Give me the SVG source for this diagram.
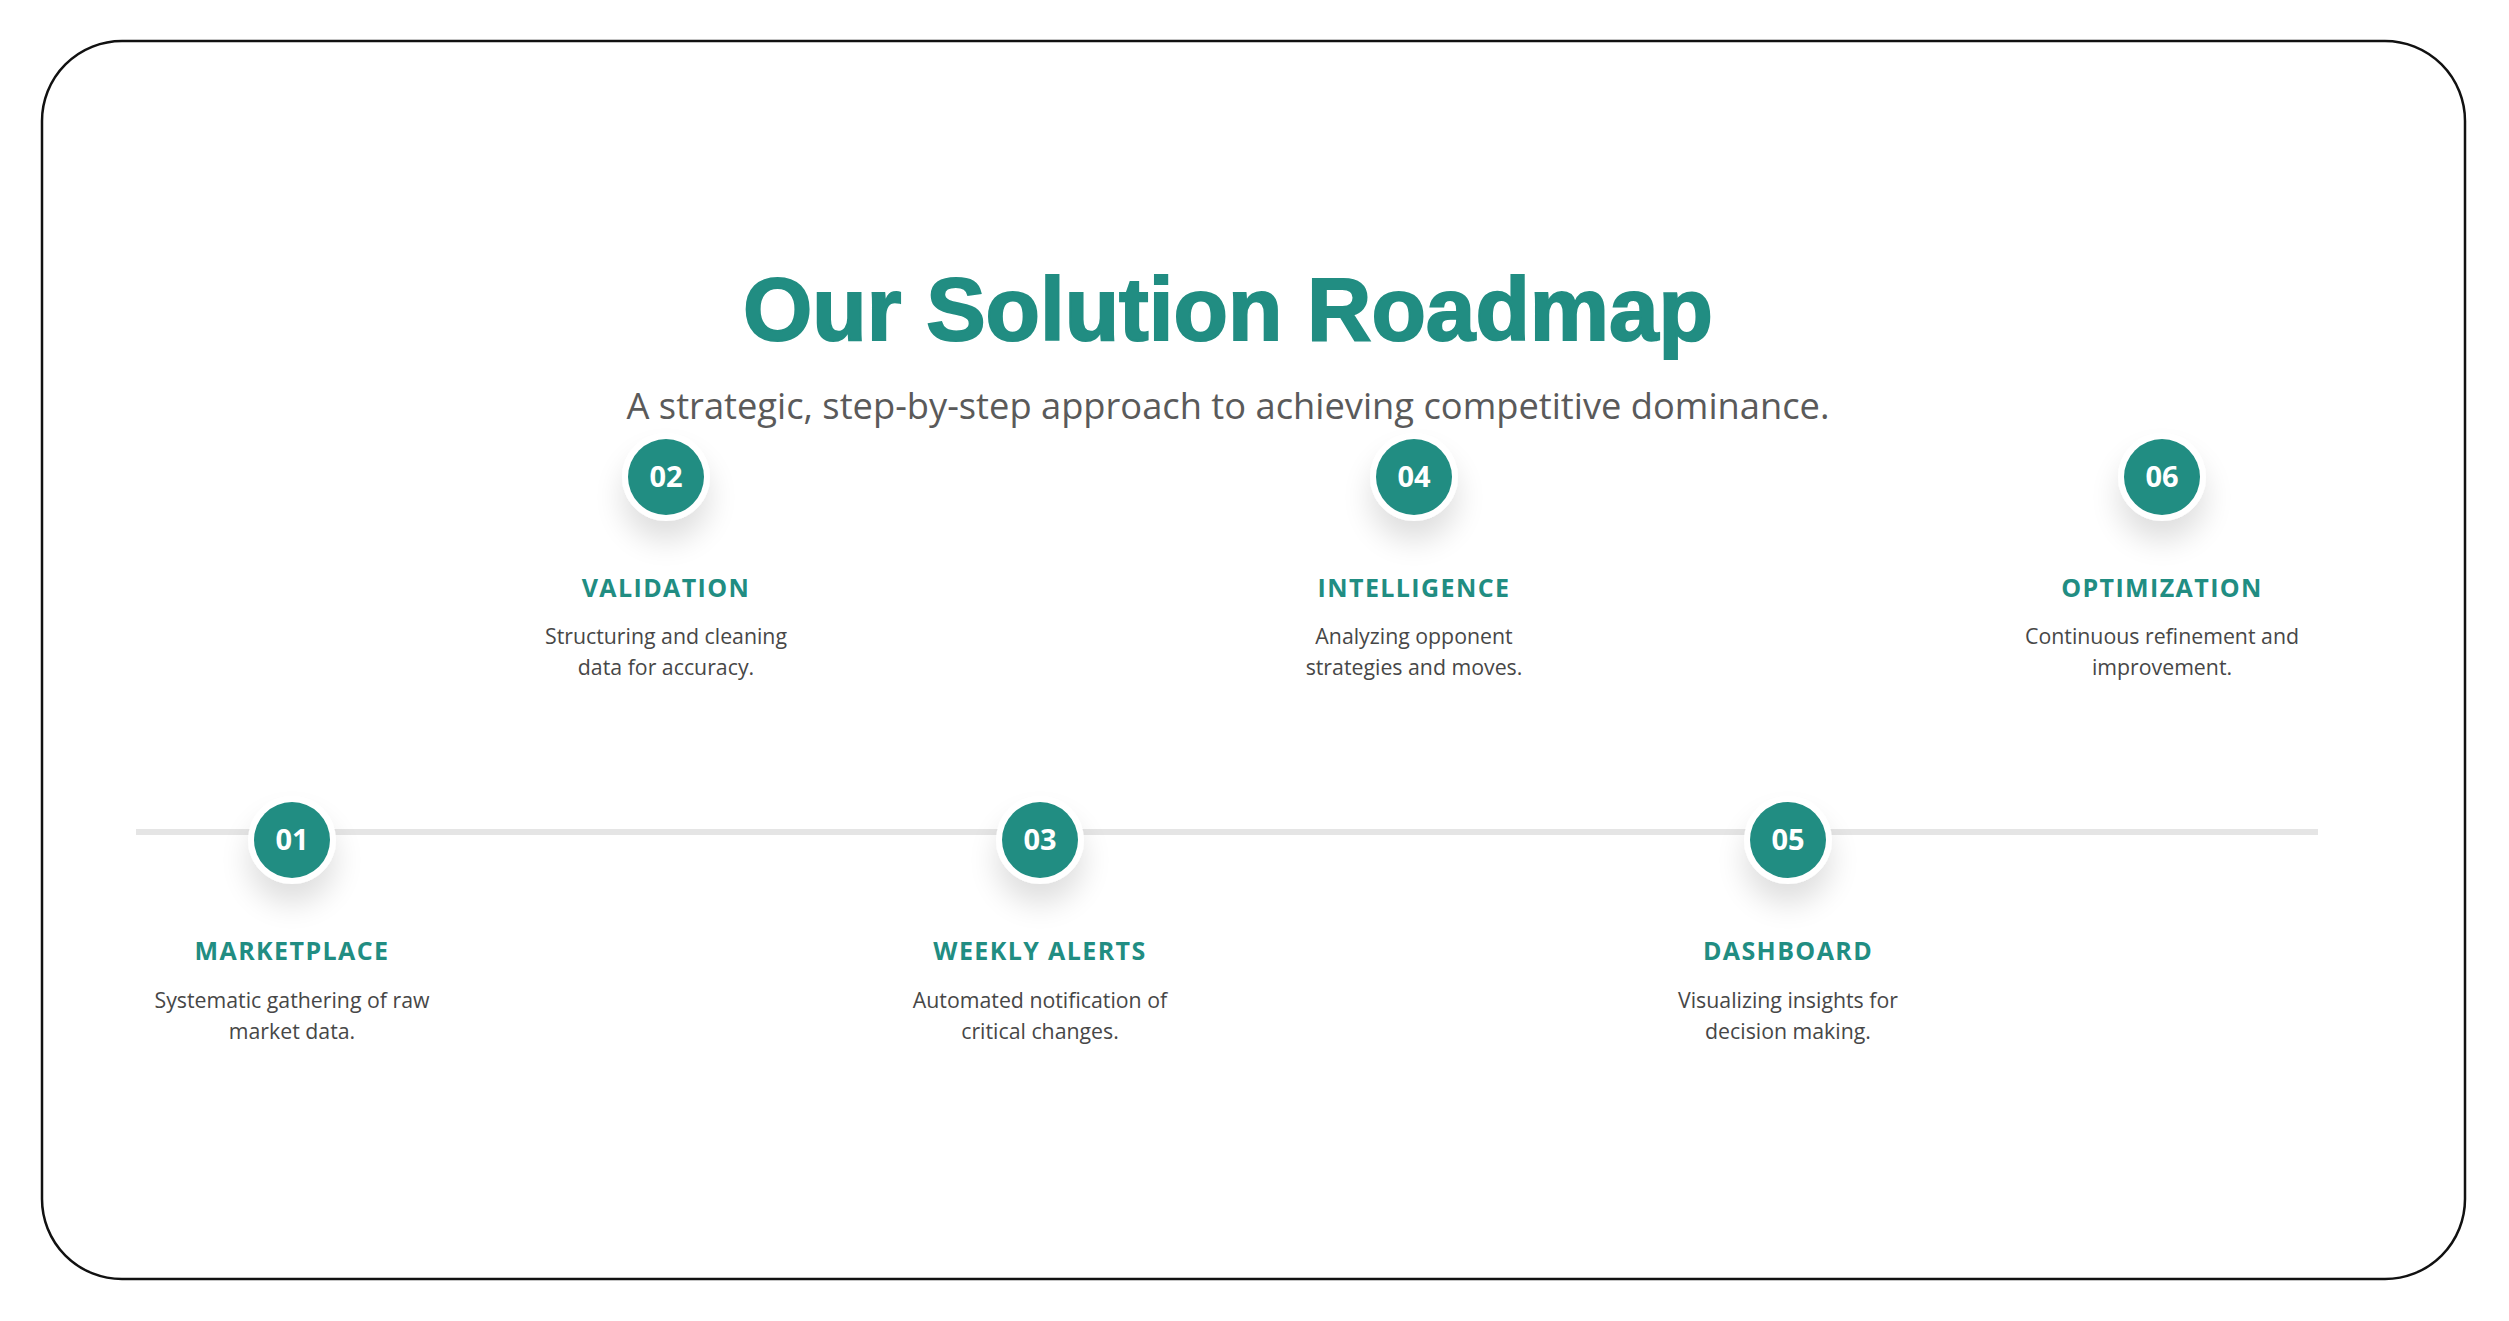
<svg xmlns="http://www.w3.org/2000/svg" width="2509" height="1321" viewBox="0 0 2509 1321">
<defs>
<filter id="sh" x="-150%" y="-150%" width="400%" height="400%">
<feGaussianBlur in="SourceAlpha" stdDeviation="15"/>
<feOffset dx="0" dy="20" result="b"/>
<feComponentTransfer><feFuncA type="linear" slope="0.13"/></feComponentTransfer>
<feMerge><feMergeNode/><feMergeNode in="SourceGraphic"/></feMerge>
</filter>
</defs>
<style>
.ring{fill:#ffffff;filter:url(#sh)}
.dot{fill:#218d82}
.num{font-family:"Open Sans","Liberation Sans",sans-serif;font-weight:700;font-size:29px;fill:#ffffff;text-anchor:middle}
.lab{font-family:"Open Sans","Liberation Sans",sans-serif;font-weight:700;font-size:25px;letter-spacing:1.4px;fill:#218d82;text-anchor:middle}
.desc{font-family:"Open Sans","Liberation Sans",sans-serif;font-size:21.3px;fill:#474747;text-anchor:middle}
</style>
<rect x="0" y="0" width="2509" height="1321" fill="#ffffff"/>
<rect x="42" y="41" width="2423" height="1238" rx="80" ry="80" fill="#ffffff" stroke="#111111" stroke-width="2.5"/>
<g id="title">
<text x="1228" y="340" text-anchor="middle" font-family="'Liberation Sans',Arial,sans-serif" font-weight="700" font-size="89" fill="#218d82" stroke="#218d82" stroke-width="2" textLength="970" lengthAdjust="spacingAndGlyphs">Our Solution Roadmap</text>
<text x="1228" y="419" text-anchor="middle" font-family="'Open Sans','Liberation Sans',sans-serif" font-size="37" fill="#5a5a5a" textLength="1203" lengthAdjust="spacingAndGlyphs">A strategic, step-by-step approach to achieving competitive dominance.</text>
</g>
<g id="connectors">
<line x1="136" y1="832" x2="2318" y2="832" stroke="#e5e5e5" stroke-width="6"/>
</g>
<g id="step01">
<circle class="ring" cx="292" cy="840" r="44"/>
<circle class="dot" cx="292" cy="840" r="38"/>
<text class="num" x="292" y="850">01</text>
<text class="lab" x="292" y="960">MARKETPLACE</text>
<text class="desc" x="292" y="1008">Systematic gathering of raw</text>
<text class="desc" x="292" y="1039">market data.</text>
</g>
<g id="step02">
<circle class="ring" cx="666" cy="477" r="44"/>
<circle class="dot" cx="666" cy="477" r="38"/>
<text class="num" x="666" y="487">02</text>
<text class="lab" x="666" y="597">VALIDATION</text>
<text class="desc" x="666" y="644">Structuring and cleaning</text>
<text class="desc" x="666" y="675">data for accuracy.</text>
</g>
<g id="step03">
<circle class="ring" cx="1040" cy="840" r="44"/>
<circle class="dot" cx="1040" cy="840" r="38"/>
<text class="num" x="1040" y="850">03</text>
<text class="lab" x="1040" y="960">WEEKLY ALERTS</text>
<text class="desc" x="1040" y="1008">Automated notification of</text>
<text class="desc" x="1040" y="1039">critical changes.</text>
</g>
<g id="step04">
<circle class="ring" cx="1414" cy="477" r="44"/>
<circle class="dot" cx="1414" cy="477" r="38"/>
<text class="num" x="1414" y="487">04</text>
<text class="lab" x="1414" y="597">INTELLIGENCE</text>
<text class="desc" x="1414" y="644">Analyzing opponent</text>
<text class="desc" x="1414" y="675">strategies and moves.</text>
</g>
<g id="step05">
<circle class="ring" cx="1788" cy="840" r="44"/>
<circle class="dot" cx="1788" cy="840" r="38"/>
<text class="num" x="1788" y="850">05</text>
<text class="lab" x="1788" y="960">DASHBOARD</text>
<text class="desc" x="1788" y="1008">Visualizing insights for</text>
<text class="desc" x="1788" y="1039">decision making.</text>
</g>
<g id="step06">
<circle class="ring" cx="2162" cy="477" r="44"/>
<circle class="dot" cx="2162" cy="477" r="38"/>
<text class="num" x="2162" y="487">06</text>
<text class="lab" x="2162" y="597">OPTIMIZATION</text>
<text class="desc" x="2162" y="644">Continuous refinement and</text>
<text class="desc" x="2162" y="675">improvement.</text>
</g>
</svg>
